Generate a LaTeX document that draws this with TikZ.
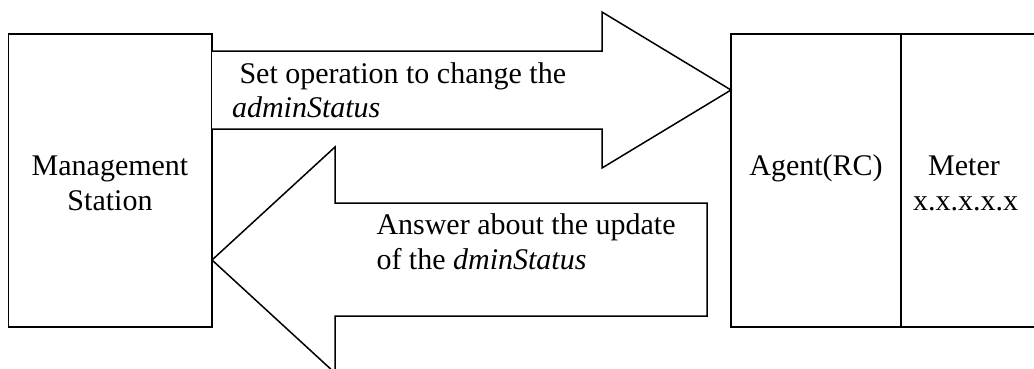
\documentclass[tikz,border=0pt]{standalone}
\usepackage{fontspec}
\setmainfont{Liberation Serif}
\begin{document}
\begin{tikzpicture}[x=1pt,y=-1pt,
  box/.style={draw=black,line width=1.5pt,minimum width=#1,inner sep=0pt,outer sep=0pt},
  bigarrow/.style={draw=black,line width=1.5pt,line join=miter,fill=white},
  lbl/.style={inner sep=0pt,outer sep=0pt,font=\fontsize{30}{34}\selectfont}]
\clip (0,0) rectangle (1034,368);
\fill[white] (0,0) rectangle (1034,368);
% boxes
\node[box=203.5pt,minimum height=293pt] (ms) at (110.25,180.5) {};
\node[box=170pt,minimum height=293pt] (agent) at (816,180.5) {};
\node[box=150pt,minimum height=293pt] (meter) at (976,180.5) {};
% upper arrow (station -> agent)
\coordinate (upTip) at (agent.west |- 0,90);
\draw[bigarrow] (ms.east |- 0,51) -- (602,51) -- (602,12) -- (upTip)
  -- (602,168) -- (602,129) -- (ms.east |- 0,129);
% lower arrow (agent side -> station)
\coordinate (lowTip) at (ms.east |- 0,260);
\draw[bigarrow] (707,203) -- (335,203) -- (335,147) -- (lowTip)
  -- (335,373) -- (335,316) -- (707,316) -- cycle;
% labels
\node[lbl,anchor=base] (msA) at (110,175) {Management};
\node[lbl,anchor=base] (msB) at (110,210) {Station};
\node[lbl,anchor=base] (agentL) at (816,175) {Agent(RC)};
\node[lbl,anchor=base] (meterA) at (964,175) {Meter};
\node[lbl,anchor=base] (meterB) at (965.5,210) {x.x.x.x.x};
\node[lbl,anchor=base west] (upA) at (232,83) {\hspace{7.5pt}Set operation to change the};
\node[lbl,anchor=base west] (upB) at (232,117) {\textit{adminStatus}};
\node[lbl,anchor=base west] (lowA) at (376.5,234) {Answer about the update};
\node[lbl,anchor=base west] (lowB) at (376.5,269) {of the \textit{dminStatus}};
\end{tikzpicture}
\end{document}
